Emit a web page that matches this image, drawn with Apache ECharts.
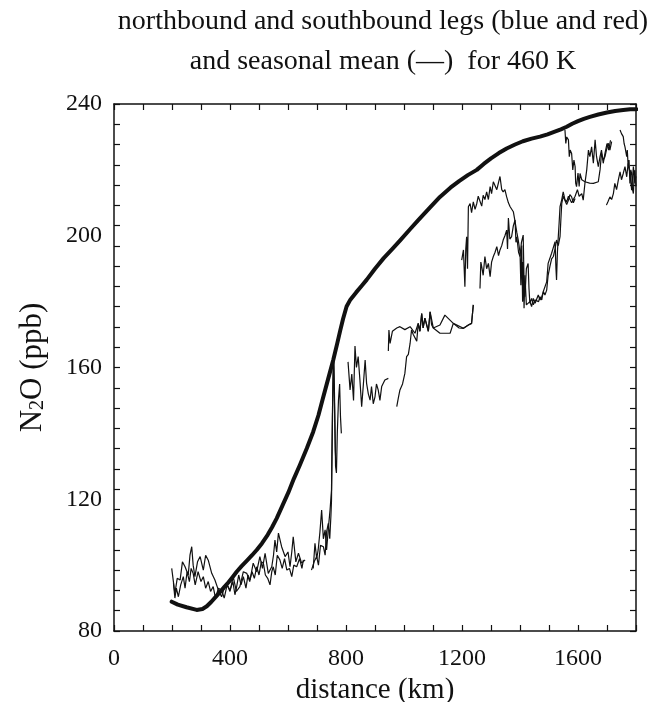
<!DOCTYPE html>
<html>
<head>
<meta charset="utf-8">
<script src="https://cdn.jsdelivr.net/npm/echarts@6/dist/echarts.min.js"></script>
<style>html,body{margin:0;padding:0;background:#fff}#c{width:649px;height:702px}</style>
</head>
<body>
<div id="c"></div>
<script>
// ---- tick labels / axis ranges ----
const xTicks = [0, 400, 800, 1200, 1600];
const yTicks = [80, 120, 160, 200, 240];

// ---- seasonal mean (thick line): [distance km, N2O ppb] ----
const seasonalMean = [[199,88.9],[220,88.0],[250,87.2],[285,86.4],[305,86.7],[320,87.5],[335,88.8],[350,90.3],[366,91.9],[380,93.3],[395,94.8],[410,96.5],[423,98.0],[440,99.7],[460,101.5],[476,103.0],[492,104.6],[510,106.6],[530,109.2],[545,111.5],[561,114.2],[580,117.9],[601,122.0],[620,126.2],[641,130.4],[665,135.5],[687,140.5],[705,145.5],[720,150.5],[738,156.4],[756,162.3],[770,167.4],[780,171.2],[790,174.8],[802,178.5],[815,180.6],[835,182.8],[855,184.9],[871,186.6],[900,190.0],[930,193.2],[960,196.0],[986,198.5],[1020,201.9],[1050,204.8],[1090,208.6],[1124,211.8],[1160,214.6],[1190,216.6],[1220,218.4],[1251,220.0],[1275,221.8],[1300,223.5],[1327,225.1],[1354,226.5],[1383,227.7],[1410,228.7],[1440,229.5],[1469,230.1],[1495,230.8],[1520,231.6],[1541,232.3],[1561,233.1],[1580,234.0],[1600,234.8],[1620,235.5],[1641,236.1],[1670,236.8],[1700,237.4],[1728,237.9],[1756,238.2],[1780,238.4],[1802,238.4]];

// ---- northbound leg segments ----
const northLow = [[199,99.0],[210,91.4],[218,96],[228,95.5],[236,101],[245,99.5],[256,97],[262,103],[268,105.6],[273,100],[279,96.5],[288,101],[297,102.6],[308,98.5],[316,103],[325,101.5],[337,97.5],[348,95.5],[360,92.4],[371,90.4],[380,93],[388,94.5],[400,92],[411,96.5],[422,92],[434,93.5],[446,98],[458,97.5],[468,95],[480,100.6],[492,98],[503,102.6],[512,99],[521,103.6],[532,97.5],[544,99.5],[550,103],[555,107.6],[561,104],[567,109.7],[578,105.6],[590,102.6],[600,104],[607,99.5],[613,104],[618,108.6],[627,101],[636,103.6],[647,100.6],[659,101.6]];
const northRise = [[687,99.0],[693,106.6],[699,102],[704,104.6],[710,110],[716,116.7],[722,108],[728,110.7],[733,104.6],[740,112],[745,116.7],[750,122.8],[753,145],[756,160],[758,164],[761,148],[764,130],[767,128],[770,140],[774,150],[778,155],[781,145],[784,140]];
const northZigzag = [[807,161.7],[814,153.2],[820,158],[826,150],[831,166.5],[836,160],[842,163.3],[848,156.2],[854,148.1],[860,155],[866,162.3],[871,155.2],[877,152],[883,150.1],[888,154.2],[894,149],[900,151.1],[905,155],[911,153.2],[917,150],[923,154.2],[934,156.2],[946,156.7]];
const northMid = [[946,165],[948,171.4],[952,167.3],[960,171],[975,172],[986,172.4],[1003,171.5],[1021,172.4],[1038,170.4],[1049,173.4],[1055,171],[1061,176.4],[1066,172],[1072,175],[1078,174.4],[1084,171],[1090,176.9],[1101,172],[1107,172.4],[1124,170.4],[1159,170.4],[1170,173.4],[1190,172],[1205,171.9],[1222,172.9],[1233,173.4],[1239,179.0]];
const northHigh = [[1199,192.6],[1205,195.7],[1210,184.5],[1213,196],[1216,199.7],[1219,190],[1222,208.8],[1228,209.8],[1233,207],[1239,210.3],[1245,208],[1251,209.8],[1256,212],[1262,211.8],[1268,209],[1273,212.3],[1279,211],[1285,213.3],[1291,211],[1297,214.9],[1302,212.8],[1308,216.4],[1320,214],[1331,218],[1337,214],[1342,213.3],[1348,214],[1354,211.8],[1360,210],[1366,208.8],[1371,209],[1377,207.3],[1383,204.3],[1389,201],[1394,198.7],[1400,195],[1403,185],[1406,197],[1409,180],[1411,192],[1414,178],[1417,188],[1422,179],[1428,179.5],[1434,180],[1440,178.5],[1446,181],[1452,179.5],[1457,180.0],[1463,182],[1469,180.5],[1475,181.5],[1481,183],[1486,182],[1492,183.5],[1497,188],[1503,190.6],[1509,193],[1515,193.7],[1521,196],[1526,198.7],[1532,197],[1538,199.7],[1541,205],[1544,209.8],[1549,212],[1555,211.8],[1561,209.5],[1567,210.8],[1572,212.5],[1578,211.8],[1584,210],[1590,211.3]];
const northTop = [[1555,232.1],[1558,228],[1561,230],[1567,229.1],[1570,224],[1573,226],[1578,225.0],[1582,220],[1586,223],[1590,221.0],[1592,216],[1595,214.9],[1600,219],[1604,215],[1607,218.9],[1613,217],[1624,216.4],[1640,216],[1653,215.9],[1670,216.4],[1676,220],[1681,225.0],[1687,223],[1693,224.0],[1698,226],[1704,228.1],[1710,226],[1716,228.6]];
const northEnd = [[1698,209.3],[1704,210.5],[1710,211.8],[1716,211],[1722,212.8],[1727,215.9],[1733,214],[1739,216.9],[1745,219.4],[1750,217],[1756,218.9],[1762,221.0],[1768,217.9],[1773,222.0],[1779,218.9],[1785,213.8],[1791,221.0],[1796,215.9],[1800,218]];

// ---- southbound leg segments ----
const southLow = [[205,94.5],[210,90],[215,93],[222,90.4],[230,94],[239,96.5],[245,93],[252,98],[260,95],[266,99],[273,97.5],[280,94],[290,98],[300,95],[308,96.5],[316,93],[325,95],[333,92],[342,93.5],[350,90],[360,93],[371,92.4],[380,90],[390,94],[400,92.4],[410,95],[417,91],[423,93.5],[430,97],[438,94],[446,96.5],[455,93],[462,97],[469,95.5],[476,98],[484,96],[492,99.5],[500,97],[508,101],[515,100.6],[522,97],[530,96],[538,94.0],[544,98],[549,99.5],[556,97],[563,103],[572,101.6],[580,99],[588,102],[596,98.5],[605,99],[613,96.5],[620,100],[630,99.5],[640,102],[648,99],[653,101.6]];
const southRise = [[681,98.5],[690,101],[699,102.6],[705,100],[712,106],[722,105.6],[728,103],[733,110],[739,112.7],[744,108],[748,115],[750,119.7],[752,135],[755,155],[757,162],[760,150],[763,135],[766,130]];
const southMid = [[975,148.1],[981,151],[986,153.2],[995,155],[1003,158.2],[1009,163.3],[1015,164],[1021,167.3],[1026,171.4],[1032,170],[1038,170.4],[1044,168],[1049,173.4],[1055,171],[1061,176.4],[1066,172],[1072,175],[1078,174.4],[1084,171],[1090,176.9],[1095,173],[1101,172],[1107,172.4],[1124,172.9],[1141,175.9],[1170,173.4],[1205,171.9],[1222,172.9],[1233,173.4],[1239,179.0]];
const southHigh = [[1262,184.0],[1265,192],[1268,190.6],[1273,188],[1279,193.7],[1285,190],[1291,191.6],[1297,187.6],[1302,192],[1308,193.7],[1314,195],[1320,196.7],[1326,194],[1331,195.7],[1337,197],[1342,198.7],[1348,200],[1354,201.7],[1357,196],[1360,205.4],[1365,199],[1371,199.7],[1377,203],[1383,204.8],[1386,198],[1389,199.7],[1395,195],[1400,193.7],[1405,198],[1411,200.2],[1414,186],[1417,181.5],[1422,190],[1428,191.6],[1431,184],[1434,179.5],[1440,181],[1446,179],[1452,180.5],[1458,181],[1464,180],[1469,181.5],[1475,180.5],[1480,183],[1486,183.5],[1492,186],[1497,191.6],[1503,192],[1509,194.7],[1515,195],[1521,198.2],[1524,190],[1526,186.6],[1529,195],[1532,199.7],[1535,204],[1538,208.8],[1544,211],[1549,213.3],[1555,211],[1561,210.3],[1567,212],[1572,211.8],[1578,210],[1584,210.3],[1590,212],[1598,214],[1604,212],[1613,212.8],[1618,210.8],[1624,216],[1630,219.9],[1636,226.0],[1641,224],[1647,227.0],[1653,222],[1659,229.1],[1664,224.0],[1670,221],[1676,224],[1681,226],[1687,222],[1693,225],[1700,228],[1706,226],[1712,229]];
const southEnd = [[1745,232.1],[1750,231],[1756,230.1],[1759,228],[1762,227.0],[1768,224.0],[1770,226],[1773,221.0],[1776,223],[1779,215.9],[1782,220],[1785,218.9],[1788,214],[1791,212.8],[1794,219],[1796,219.9],[1800,215]];

const northSegments = [northLow, northRise, northZigzag, northMid, northHigh, northTop, northEnd];
const southSegments = [southLow, southRise, southMid, southHigh, southEnd];

const serif = '"Liberation Serif", "DejaVu Serif", serif';
const ink = '#111';

const chart = echarts.init(document.getElementById('c'), null, {renderer: 'canvas'});

const series = [];
northSegments.forEach(seg => series.push({
  name: 'northbound', type: 'line', data: seg, showSymbol: false, silent: true,
  lineStyle: {color: ink, width: 1.2}, z: 2
}));
southSegments.forEach(seg => series.push({
  name: 'southbound', type: 'line', data: seg, showSymbol: false, silent: true,
  lineStyle: {color: ink, width: 1.2}, z: 2
}));
series.push({
  name: 'seasonal mean', type: 'line', data: seasonalMean, showSymbol: false, silent: true,
  smooth: false,
  lineStyle: {color: ink, width: 4, join: 'round', cap: 'round'}, z: 3
});

const yMinorStep = (yTicks[yTicks.length-1] - yTicks[0]) / 26;

chart.setOption({
  animation: false,
  backgroundColor: '#fff',
  graphic: [
    {type: 'text', x: 383, y: 22, style: {text: 'northbound and southbound legs (blue and red)', font: '28px ' + serif, fill: ink, textAlign: 'center', textVerticalAlign: 'middle'}},
    {type: 'text', x: 383, y: 62, style: {text: 'and seasonal mean (\u2014)  for 460 K', font: '28px ' + serif, fill: ink, textAlign: 'center', textVerticalAlign: 'middle'}}
  ],
  grid: {left: 114, right: 13, top: 104, bottom: 71, containLabel: false, outerBoundsMode: 'none'},
  xAxis: [
    {
      type: 'value', position: 'bottom', min: xTicks[0], max: 1800, interval: 400,
      name: 'distance (km)', nameLocation: 'middle', nameGap: 45,
      nameTextStyle: {fontFamily: serif, fontSize: 29, color: ink},
      axisLine: {show: true, lineStyle: {color: ink, width: 1.5}},
      axisTick: {show: true, inside: true, length: 6, lineStyle: {color: ink, width: 1.2}},
      minorTick: {show: true, splitNumber: 4, length: 6, lineStyle: {color: ink, width: 1.2}},
      axisLabel: {fontFamily: serif, fontSize: 24, color: ink, margin: 16,
        formatter: v => xTicks.indexOf(v) >= 0 ? String(v) : ''},
      splitLine: {show: false}, minorSplitLine: {show: false}
    },
    {
      type: 'value', position: 'top', min: xTicks[0], max: 1800, interval: 400,
      axisLine: {show: true, lineStyle: {color: ink, width: 1.5}},
      axisTick: {show: true, inside: true, length: 6, lineStyle: {color: ink, width: 1.2}},
      minorTick: {show: true, splitNumber: 4, length: 6, lineStyle: {color: ink, width: 1.2}},
      axisLabel: {show: false}, splitLine: {show: false}
    }
  ],
  yAxis: [
    {
      type: 'value', position: 'left', min: yTicks[0], max: yTicks[yTicks.length-1], interval: 40,
      name: '{a|N}{s|2}{a|O (ppb)}', nameLocation: 'middle', nameGap: 66, nameRotate: 90,
      nameTextStyle: {color: ink, rich: {
        a: {fontFamily: serif, fontSize: 31, color: ink, verticalAlign: 'bottom', lineHeight: 36},
        s: {fontFamily: serif, fontSize: 20, color: ink, verticalAlign: 'bottom', lineHeight: 28}
      }},
      axisLine: {show: true, lineStyle: {color: ink, width: 1.5}},
      axisTick: {show: false},
      axisLabel: {fontFamily: serif, fontSize: 24, color: ink, margin: 12},
      splitLine: {show: false}
    },
    {
      type: 'value', position: 'left', min: yTicks[0], max: yTicks[yTicks.length-1], interval: yMinorStep,
      axisLine: {show: false},
      axisTick: {show: true, inside: true, length: 6, lineStyle: {color: ink, width: 1.2}},
      axisLabel: {show: false}, splitLine: {show: false}
    },
    {
      type: 'value', position: 'right', min: yTicks[0], max: yTicks[yTicks.length-1], interval: yMinorStep,
      axisLine: {show: true, lineStyle: {color: ink, width: 1.5}},
      axisTick: {show: true, inside: true, length: 6, lineStyle: {color: ink, width: 1.2}},
      axisLabel: {show: false}, splitLine: {show: false}
    }
  ],
  series: series
});
</script>
</body>
</html>
